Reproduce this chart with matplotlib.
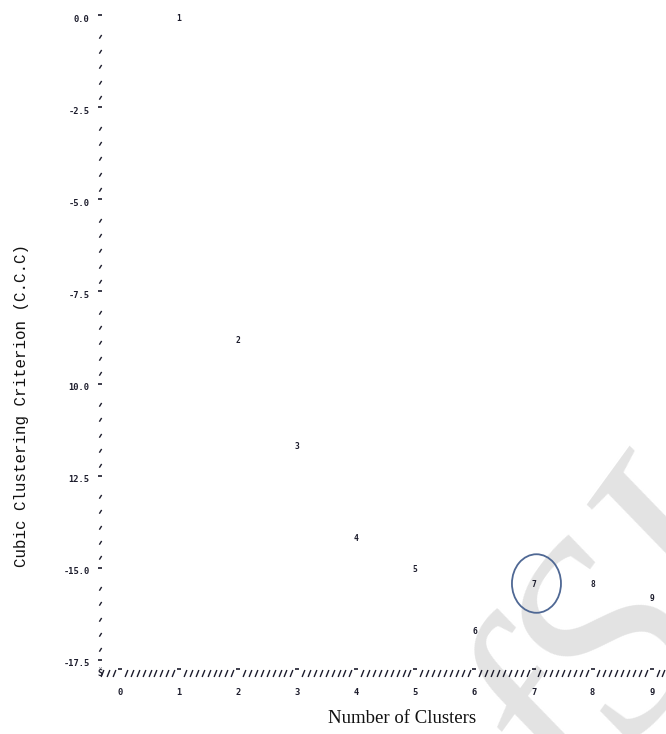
import numpy as np
import matplotlib
matplotlib.use("Agg")
import matplotlib.pyplot as plt
from matplotlib.path import Path
from matplotlib.patches import Ellipse
from matplotlib.ticker import FixedLocator, MultipleLocator

# data
n_clusters = [1, 2, 3, 4, 5, 6, 7, 8, 9]
ccc = [0.0, -8.74, -11.63, -14.12, -14.96, -16.64, -15.39, -15.39, -15.77]
point_labels = ["1", "2", "3", "4", "5", "6", "7", "8", "9"]

x_ticks = [0, 1, 2, 3, 4, 5, 6, 7, 8, 9]
x_tick_labels = ["0", "1", "2", "3", "4", "5", "6", "7", "8", "9"]
y_ticks = [0.0, -2.5, -5.0, -7.5, -10.0, -12.5, -15.0, -17.5]
y_tick_labels = ["0.0", "-2.5", "-5.0", "-7.5", "10.0", "12.5", "-15.0", "-17.5"]

circled = 7  # cluster count marked with the ellipse

ink = "#1c1c2c"
mono = "DejaVu Sans Mono"

fig = plt.figure(figsize=(6.66, 7.34), dpi=100)

# faint watermark behind everything
fig.text(0.885, -0.1, "fSI", rotation=54, rotation_mode="anchor",
         fontsize=200, family="Liberation Serif", style="italic",
         color="#e3e3e3", ha="left", va="baseline", zorder=-5)

ax = fig.add_axes([100 / 666, 61 / 734, 566 / 666, 673 / 734])
ax.set_facecolor("none")
for s in ax.spines.values():
    s.set_visible(False)

ax.set_xlim(-0.339, 9.243)
ax.set_ylim(-17.78, 0.497)

ax.tick_params(which="both", direction="in", colors=ink,
               top=False, right=False)
ax.tick_params(axis="x", which="major", size=6, width=1.2, pad=11)
ax.tick_params(axis="x", which="minor", size=5, width=1.0)
ax.tick_params(axis="y", which="major", size=5, width=1.2, pad=7.5)
ax.tick_params(axis="y", which="minor", size=6, width=1.0)

ax.xaxis.set_major_locator(FixedLocator(x_ticks))
ax.xaxis.set_minor_locator(MultipleLocator(0.1))
ax.yaxis.set_major_locator(FixedLocator(y_ticks))
ax.yaxis.set_minor_locator(FixedLocator(np.arange(0, -17.6, -2.5 / 6)))
ax.set_xticklabels(x_tick_labels)
ax.set_yticklabels(y_tick_labels)
for lab in ax.get_xticklabels() + ax.get_yticklabels():
    lab.set_family(mono)
    lab.set_fontsize(6.3)
    lab.set_fontweight("bold")
    lab.set_color(ink)

# printer-style glyph ticks
line = [Path.MOVETO, Path.LINETO]
f_mark = Path([(0.2, 0.5), (-0.2, -0.5)], line)
comma_mark = Path([(0.25, -0.1), (-0.25, -0.9)], line)
x_dash = Path([(-0.25, 0.5), (0.25, 0.5)], line)
y_dash = Path([(-0.35, 0.5), (0.35, 0.5)], line)

for t in ax.xaxis.get_minor_ticks():
    t.tick1line.set_marker(f_mark)
for t in ax.xaxis.get_major_ticks():
    t.tick1line.set_marker(x_dash)
for t in ax.yaxis.get_minor_ticks():
    t.tick1line.set_marker(comma_mark)
for t in ax.yaxis.get_major_ticks():
    t.tick1line.set_marker(y_dash)

ax.text(0, 0, "Š", transform=ax.transAxes, ha="center", va="center",
        family=mono, fontsize=6, fontweight="bold", color=ink)

# the points are drawn as their own cluster numbers
for x, y, lab in zip(n_clusters, ccc, point_labels):
    ax.text(x, y, lab, ha="center", va="center", family=mono,
            fontsize=5.8, fontweight="bold", color=ink)

i = n_clusters.index(circled)
ax.add_patch(Ellipse((n_clusters[i] + 0.05, ccc[i] + 0.04), 0.83, 1.59,
                     fill=False, ec="#4f6894", lw=1.3))

ax.set_xlabel("Number of Clusters", family="Liberation Serif",
              fontsize=13.5, color="#111111")
ax.xaxis.set_label_coords(0.534, -0.067)
ax.xaxis.label.set_va("center")

ax.set_ylabel("Cubic Clustering Criterion (C.C.C)", family="Liberation Mono",
              fontsize=11.4, color="#111111")
ax.yaxis.set_label_coords(-0.138, 0.398)
ax.yaxis.label.set_va("center")

fig.savefig("out.png", dpi=100)
